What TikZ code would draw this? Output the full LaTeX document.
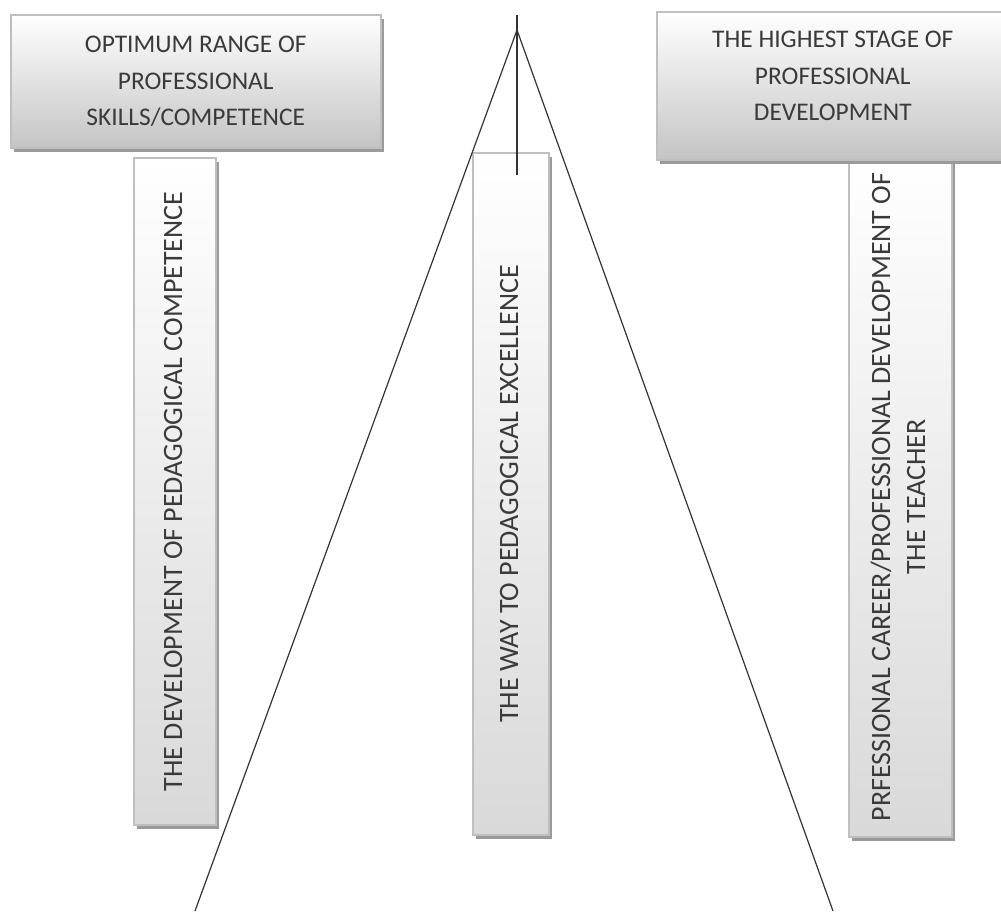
\documentclass[tikz,border=0pt]{standalone}
\usepackage{fontspec}
\setmainfont{Carlito}
\usepackage{graphicx}
\usepackage{tikz}
\usetikzlibrary{shapes.geometric, arrows}
\usetikzlibrary{positioning}
\usetikzlibrary{shadows}
\definecolor{boxtext}{HTML}{3A3A3A}
\definecolor{boxline}{HTML}{BFBFBF}
\definecolor{boxshade}{HTML}{9A9A9A}
\tikzstyle{headbox} = [rectangle, anchor=north west, draw=boxline, line width=0.8pt, top color=white, bottom color=black!23, text=boxtext, align=center, font=\fontsize{12.7}{18.3}\selectfont, drop shadow={shadow xshift=1.5pt, shadow yshift=-2pt, fill=boxshade, opacity=1}]
\tikzstyle{stagebox} = [rectangle, draw=boxline, line width=0.8pt, top color=white, bottom color=black!15, text=boxtext, font=\fontsize{14}{17.5}\selectfont, drop shadow={shadow xshift=1.5pt, shadow yshift=-2pt, fill=boxshade, opacity=1}]
\tikzstyle{guide} = [draw=black!80, line width=0.6pt]
\newcommand{\uptext}[1]{\rotatebox{90}{\begin{tabular}{@{}c@{}}#1\end{tabular}}}

\begin{document}
\begin{tikzpicture}[x=0.5pt, y=-0.5pt]
                                \useasboundingbox (0,0) rectangle (1001,911);
                                % vertical stages
                                \node (dev) [stagebox, minimum height=333.5pt, minimum width=41pt] at (175,491.5) {\uptext{THE DEVELOPMENT OF PEDAGOGICAL COMPETENCE}};
                                \node (way) [stagebox, minimum height=341pt, minimum width=38pt] at (511,494) {\uptext{THE WAY TO PEDAGOGICAL EXCELLENCE}};
                                \node (career) [stagebox, minimum height=340pt, minimum width=51.5pt] at (900.5,497) {\uptext{PRFESSIONAL CAREER/PROFESSIONAL DEVELOPMENT OF\\ THE TEACHER}};
                                % top boxes
                                \node (optimum) [headbox, minimum width=185pt, minimum height=66.5pt] at (10,14) {OPTIMUM RANGE OF\\ PROFESSIONAL\\ SKILLS/COMPETENCE};
                                \node (highest) [headbox, minimum width=176pt, minimum height=74pt, text depth=10pt] at (656,11) {THE HIGHEST STAGE OF\\ PROFESSIONAL\\ DEVELOPMENT};
                                % the cone
                                \coordinate (tip) at (517,30);
                                \coordinate (stem top) at (517,15);
                                \coordinate (stem end) at (517,175);
                                \coordinate (left foot) at (195,911);
                                \coordinate (right foot) at (833,911);
                                \draw [guide] (stem top) -- (stem end);
                                \draw [guide] (tip) -- (left foot);
                                \draw [guide] (tip) -- (right foot);
                            \end{tikzpicture}
\end{document}
